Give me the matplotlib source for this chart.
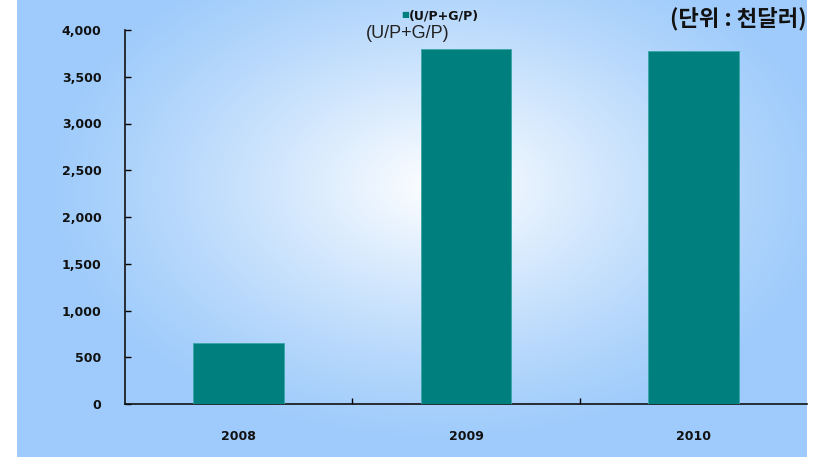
from matplotlib import pyplot as plt
import numpy as np

years = ['2008', '2009', '2010']
values = [650, 3800, 3780]
yticks = [0, 500, 1000, 1500, 2000, 2500, 3000, 3500, 4000]
series_name = '(U/P+G/P)'
unit_text = '(단위 : 천달러)'

bar_color = '#007F7F'
edge_blue = np.array([158, 203, 251]) / 255.0

W, H = 825, 457
fig = plt.figure(figsize=(W / 100, H / 100), dpi=100)

# gradient backdrop panel
bg = fig.add_axes([17 / W, 0, 790 / W, 1])
bg.set_zorder(-1)
px = np.arange(17, 807)
py = np.arange(0, H)
gx, gy = np.meshgrid(px, py)
d = np.sqrt(((gx - 440) / 400.0) ** 2 + ((gy - 185) / 260.0) ** 2)
t = np.clip(1 - d, 0, 1) ** 1.2
img = edge_blue[None, None, :] + (1 - edge_blue[None, None, :]) * t[:, :, None]
bg.imshow(img, aspect='auto', extent=[0, 1, 0, 1], origin='upper')
bg.axis('off')

ax = fig.add_axes([125 / W, 1 - 404 / H, 682 / W, 374 / H])
ax.set_facecolor('none')
x = np.arange(len(years))
ax.bar(x, values, width=0.4, color=bar_color, edgecolor='#3aa6a6', linewidth=0.6, zorder=3)

ax.set_xlim(-0.5, 2.5)
ax.set_ylim(0, 4000)
ax.set_yticks(yticks)
ax.set_yticklabels(['{:,}'.format(v) for v in yticks], fontsize=9, fontweight='bold', color='#111111')
ax.set_xticks(x)
ax.set_xticklabels(years, fontsize=9, fontweight='bold', color='#111111')
ax.set_xticks([0.5, 1.5], minor=True)
ax.tick_params(axis='x', which='major', length=0, pad=19)
ax.tick_params(axis='x', which='minor', direction='in', length=4, width=1)
ax.tick_params(axis='y', direction='in', length=4, width=1, pad=17)
for s in ['top', 'right']:
    ax.spines[s].set_visible(False)
for s in ['left', 'bottom']:
    ax.spines[s].set_linewidth(1.2)
    ax.spines[s].set_color('#111111')

# legend-like labels at the top
fig.text(401 / W, 1 - 15 / H, '\u25A0', fontsize=6, color=bar_color, va='center', ha='left')
fig.text(409 / W, 1 - 16 / H, series_name, fontsize=9, fontweight='bold', va='center', ha='left',
         color='#111111')
fig.text(366 / W, 1 - 33 / H, series_name, fontsize=13, family='Liberation Sans', va='center',
         ha='left', color='#222222')
fig.text(807 / W, 1 - 19 / H, unit_text, fontsize=16, fontweight='bold',
         family=['Noto Sans CJK KR', 'DejaVu Sans'], va='center', ha='right', color='#111111')

fig.savefig('out.png', dpi=100)
